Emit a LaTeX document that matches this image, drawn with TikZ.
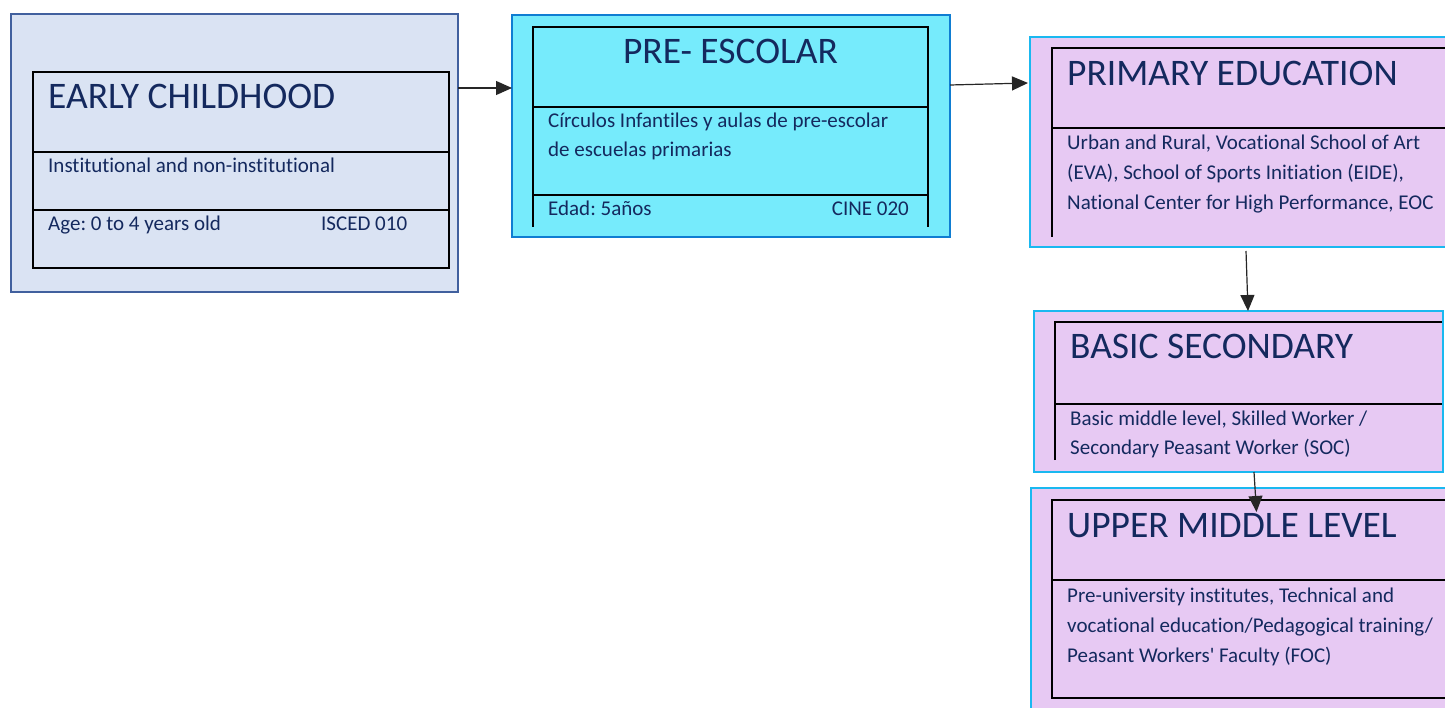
\documentclass[tikz,border=0pt]{standalone}
\usepackage{fontspec}
\newfontfamily\carl{Carlito}[Ligatures=NoCommon]
\usetikzlibrary{arrows.meta}
\frenchspacing
\definecolor{txt}{HTML}{14295E}
\definecolor{bAfill}{HTML}{DAE3F3}
\definecolor{bAline}{HTML}{41609E}
\definecolor{bBfill}{HTML}{76EBFC}
\definecolor{bBline}{HTML}{0F7DD2}
\definecolor{bCfill}{HTML}{E7C9F3}
\definecolor{bCline}{HTML}{1AB8F0}
\begin{document}
\begin{tikzpicture}[x=1pt,y=-1pt,
  outerbox/.style={anchor=north west, inner sep=0pt, outer sep=0pt, line width=2pt},
  title/.style={inner sep=0pt, anchor=base west, text=txt, font=\carl\frenchspacing\fontsize{37.5}{40}\selectfont},
  body/.style={inner sep=0pt, anchor=base west, text=txt, font=\carl\frenchspacing\fontsize{21}{24}\selectfont},
  innerline/.style={line width=1.5pt, draw=black},
  arr/.style={line width=1.2pt, draw=black!85, -{Triangle[length=16pt,width=14pt]}}]
\useasboundingbox (0,0) rectangle (1445,708);
\begin{scope}
\clip (0,0) rectangle (1445,708);
% Box 1
\node[outerbox, draw=bAline, fill=bAfill, minimum width=447pt, minimum height=278pt] (b1) at (11,14) {};
\draw[innerline] (33,72) rectangle (449,268);
\draw[innerline] (33,152) -- (449,152);
\draw[innerline] (33,210) -- (449,210);
\node[title] (b1t) at (48,109) {EARLY CHILDHOOD};
\node[body] (b1a) at (48,173) {Institutional and non-institutional};
\node[body] (b1b) at (48,231) {Age: 0 to 4 years old};
\node[body] (b1c) at (321,231) {ISCED 010};
% Box 2
\node[outerbox, draw=bBline, fill=bBfill, minimum width=438pt, minimum height=222pt] (b2) at (512,15) {};
\draw[innerline] (533,227) -- (533,27) -- (928,27) -- (928,227);
\draw[innerline] (533,107) -- (928,107);
\draw[innerline] (533,195) -- (928,195);
\node[title, anchor=base] (b2t) at (730.5,64) {PRE- ESCOLAR};
\node[body] (b2a) at (548,128) {Círculos Infantiles y aulas de pre-escolar};
\node[body] (b2b) at (548,157) {de escuelas primarias};
\node[body] (b2c) at (548,216) {Edad: 5años};
\node[body, anchor=base east] (b2d) at (909,216) {CINE 020};
% Box 3
\node[outerbox, draw=bCline, fill=bCfill, minimum width=430pt, minimum height=210pt] (b3) at (1030,37) {};
\draw[innerline] (1052,237) -- (1052,48) -- (1470,48);
\draw[innerline] (1052,128) -- (1470,128);
\node[title] (b3t) at (1067,86) {PRIMARY EDUCATION};
\node[body] (b3a) at (1067,150) {Urban and Rural, Vocational School of Art};
\node[body] (b3b) at (1067,180) {(EVA), School of Sports Initiation (EIDE),};
\node[body] (b3c) at (1067,210) {National Center for High Performance, EOC};
% Box 4
\node[outerbox, draw=bCline, fill=bCfill, minimum width=409pt, minimum height=161pt] (b4) at (1034,311) {};
\draw[innerline] (1055,460) -- (1055,322) -- (1442,322);
\draw[innerline] (1055,404) -- (1442,404);
\node[title] (b4t) at (1070,359) {BASIC SECONDARY};
\node[body] (b4a) at (1070,425) {Basic middle level, Skilled Worker /};
\node[body] (b4b) at (1070,454) {Secondary Peasant Worker (SOC)};
% Box 5
\node[outerbox, draw=bCline, fill=bCfill, minimum width=430pt, minimum height=240pt] (b5) at (1031,488) {};
\draw[innerline] (1470,500) -- (1052,500) -- (1052,698) -- (1470,698);
\draw[innerline] (1052,580) -- (1470,580);
\node[title] (b5t) at (1067,537) {UPPER MIDDLE LEVEL};
\node[body] (b5a) at (1067,602) {Pre-university institutes, Technical and};
\node[body] (b5b) at (1067,632) {vocational education/Pedagogical training/};
\node[body] (b5c) at (1067,662) {Peasant Workers' Faculty (FOC)};
% Arrows
\draw[arr] ([yshift=65pt]b1.east) -- ([yshift=65pt]b1.east -| b2.west);
\draw[arr] ([yshift=41pt]b2.east) -- ([yshift=59pt,xshift=-2pt]b3.west);
\draw[arr] ([xshift=1pt,yshift=-4pt]b3.south) -- ([xshift=9.5pt]b4.north);
\draw[arr] ([xshift=15.5pt]b4.south) -- ([xshift=10.5pt,yshift=-24pt]b5.north);
\end{scope}
\end{tikzpicture}
\end{document}
